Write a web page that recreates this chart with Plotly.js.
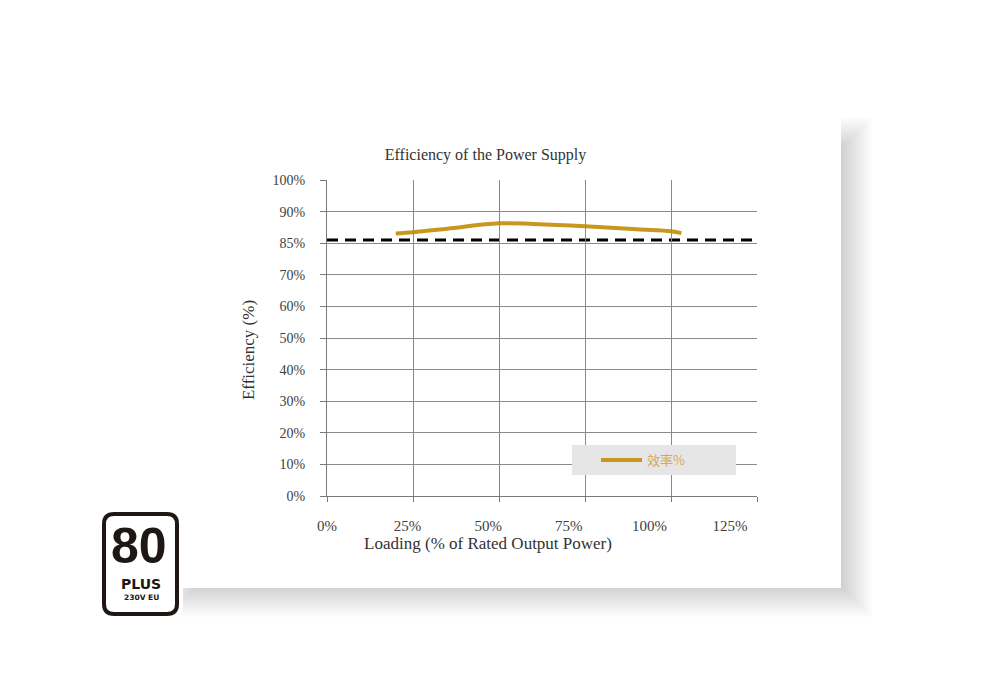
<!DOCTYPE html>
<html>
<head>
<meta charset="utf-8">
<script src="https://cdn.plot.ly/plotly-3.0.1.min.js"></script>
<style>
  html, body { margin: 0; padding: 0; background: #ffffff; }
  #chart { width: 1000px; height: 700px; }
</style>
</head>
<body>
<div id="chart"></div>
<script>
// ---------------- data ----------------
const loadPct = [20, 25, 35, 50, 60, 75, 90, 100, 103];
const efficiency = [83.1, 83.5, 84.6, 86.3, 86.1, 85.4, 84.4, 83.8, 83.2];
const seriesName = '效率%';

const limitX = [0, 125];
const limitY = [81, 81];

const xGridVals = [0, 25, 50, 75, 100, 125];
const xTickVals = [0, 25, 50, 75, 100, 125];
const xTickText = ['0%', '25%', '50%', '75%', '100%', '125%'];
const yTickVals = [0, 10, 20, 30, 40, 50, 60, 70, 80, 90, 100];
const yTickText = ['0%', '10%', '20%', '30%', '40%', '50%', '60%', '70%', '85%', '90%', '100%'];

const chartTitle = 'Efficiency of the Power Supply';
const xTitle = 'Loading (% of Rated Output Power)';
const yTitle = 'Efficiency (%)';
const logoTop = '80';
const logoMid = 'PLUS';
const logoBottom = '230V EU';

// ---------------- layout helpers ----------------
const W = 1000, H = 700;
const L = 327, R = 757, T = 180, B = 496;
const px = x => (x - L) / (R - L);
const py = y => (B - y) / (B - T);

function rectShape(x0, y0, x1, y1, fill) {
  return { type: 'rect', xref: 'paper', yref: 'paper', layer: 'below',
    x0: px(x0), x1: px(x1), y0: py(y1), y1: py(y0),
    fillcolor: fill, line: { width: 0 } };
}
function roundRect(x0, y0, x1, y1, r, fill) {
  const P = (x, y) => px(x).toFixed(5) + ',' + py(y).toFixed(5);
  const d = 'M' + P(x0 + r, y0) + ' L' + P(x1 - r, y0) + ' Q' + P(x1, y0) + ' ' + P(x1, y0 + r) +
    ' L' + P(x1, y1 - r) + ' Q' + P(x1, y1) + ' ' + P(x1 - r, y1) +
    ' L' + P(x0 + r, y1) + ' Q' + P(x0, y1) + ' ' + P(x0, y1 - r) +
    ' L' + P(x0, y0 + r) + ' Q' + P(x0, y0) + ' ' + P(x0 + r, y0) + ' Z';
  return { type: 'path', xref: 'paper', yref: 'paper', layer: 'above', path: d,
    fillcolor: fill, line: { width: 0 } };
}

const shapes = [];
// soft drop shadow of the card
const sh = { x0: 180, y0: 132, x1: 857, y1: 602 };
for (let i = 0; i < 16; i++) {
  const e = 15 - 2 * i;
  shapes.push(rectShape(sh.x0 - e, sh.y0 - e, sh.x1 + e, sh.y1 + e, 'rgba(0,0,0,0.011)'));
}
// white card
shapes.push(rectShape(0, 0, 841, 588, '#ffffff'));
// 80 PLUS badge
shapes.push(roundRect(99, 509, 183, 620, 14, '#ffffff'));
shapes.push(roundRect(102, 512, 179, 616, 12, '#1e1714'));
shapes.push(roundRect(106, 516, 175, 612, 8, '#ffffff'));

const annotations = [
  { text: logoTop, x: px(139), y: py(546), xref: 'paper', yref: 'paper', showarrow: false,
    xanchor: 'center', yanchor: 'middle', height: 44,
    font: { family: '"Liberation Sans", Arial, sans-serif', size: 50, weight: 700, color: '#1e1714' } },
  { text: logoMid, x: px(141), y: py(584), xref: 'paper', yref: 'paper', showarrow: false,
    xanchor: 'center', yanchor: 'middle',
    font: { family: '"DejaVu Sans", sans-serif', size: 14, weight: 700, color: '#1e1714' } },
  { text: logoBottom, x: px(141), y: py(597), xref: 'paper', yref: 'paper', showarrow: false,
    xanchor: 'center', yanchor: 'middle',
    font: { family: '"DejaVu Sans", sans-serif', size: 7.5, weight: 700, color: '#1e1714' } }
];

const serif = '"Liberation Serif", "DejaVu Serif", serif';
const textCol = '#404040';
const gridCol = '#8a8a8a';

const blank = xTickVals.map(() => null);
const traces = [
  { x: limitX, y: limitY, type: 'scatter', mode: 'lines', showlegend: false, hoverinfo: 'skip',
    line: { color: '#000000', width: 3, dash: '11px,7px' } },
  { x: loadPct, y: efficiency, type: 'scatter', mode: 'lines', name: seriesName,
    line: { color: '#c9961f', width: 4, shape: 'spline', smoothing: 1 } },
  // empty helper traces so the label / title axes are drawn
  { x: xTickVals, y: blank, xaxis: 'x2', yaxis: 'y', type: 'scatter', mode: 'lines', showlegend: false, hoverinfo: 'skip' },
  { x: xTickVals, y: blank, xaxis: 'x3', yaxis: 'y', type: 'scatter', mode: 'lines', showlegend: false, hoverinfo: 'skip' },
  { x: xTickVals, y: blank, xaxis: 'x', yaxis: 'y2', type: 'scatter', mode: 'lines', showlegend: false, hoverinfo: 'skip' }
];

const layout = {
  width: W, height: H, autosize: false,
  margin: { l: L, r: W - R, t: T, b: H - B, pad: 0 },
  paper_bgcolor: '#ffffff', plot_bgcolor: 'rgba(0,0,0,0)',
  font: { family: serif, color: textCol },
  title: { text: chartTitle, font: { family: serif, size: 16, color: '#333333' },
    xref: 'container', yref: 'container', x: 0.4855, y: 1 - 154 / H, xanchor: 'center', yanchor: 'middle' },
  xaxis: { range: [0, 125], tickvals: xGridVals, showticklabels: false, showgrid: true,
    gridcolor: gridCol, gridwidth: 1, zeroline: false, showline: true, linecolor: '#7a7a7a', linewidth: 1,
    ticks: 'outside', ticklen: 5, tickcolor: '#7a7a7a', fixedrange: true },
  xaxis2: { range: [0, 125], domain: [0, 403 / 430], anchor: 'y', tickvals: xTickVals, ticktext: xTickText,
    showgrid: false, zeroline: false, showline: false, ticks: '', ticklabelstandoff: 19,
    tickfont: { family: serif, size: 15, color: textCol }, fixedrange: true },
  xaxis3: { range: [0, 1], domain: [0, 2 * (488 - L) / (R - L)], anchor: 'y', showticklabels: false,
    showgrid: false, zeroline: false, showline: false, ticks: '', fixedrange: true,
    title: { text: xTitle, font: { family: serif, size: 17, color: '#333333' }, standoff: 41 } },
  yaxis: { range: [0, 100], tickvals: yTickVals, ticktext: yTickText, showgrid: true,
    gridcolor: gridCol, gridwidth: 1, zeroline: false, showline: true, linecolor: '#7a7a7a', linewidth: 1,
    ticks: 'outside', ticklen: 6, tickcolor: '#7a7a7a', ticklabelstandoff: 12,
    tickfont: { family: serif, size: 14, color: textCol }, fixedrange: true },
  yaxis2: { range: [0, 1], domain: [0, (B - 204) / (B - T)], anchor: 'x', showticklabels: false,
    showgrid: false, zeroline: false, showline: false, ticks: '', fixedrange: true,
    title: { text: yTitle, font: { family: serif, size: 17, color: '#333333' }, standoff: 67 } },
  showlegend: true,
  legend: { x: px(572), y: py(445), xanchor: 'left', yanchor: 'top', bgcolor: '#e6e6e6',
    borderwidth: 0, itemwidth: 41, orientation: 'h', indentation: 24, entrywidth: 84,
    font: { family: '"Noto Sans CJK SC", sans-serif', size: 13, color: '#d4a856' } },
  shapes: shapes,
  annotations: annotations
};

Plotly.newPlot('chart', traces, layout, { displayModeBar: false, staticPlot: true });
</script>
</body>
</html>
